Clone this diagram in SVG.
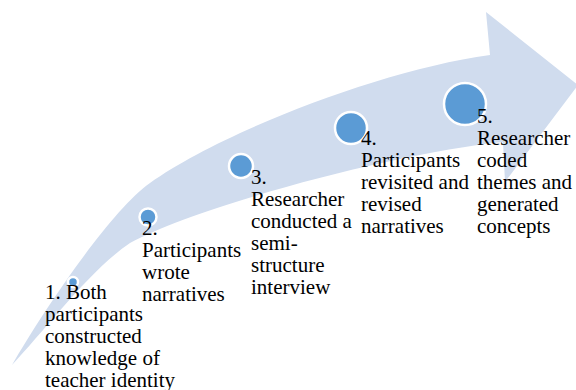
<svg xmlns="http://www.w3.org/2000/svg" width="576" height="390" viewBox="0 0 576 390">
  <style>
    .band { fill: #D0DCEE; }
    .dot { fill: #5B9BD5; stroke: #FFFFFF; stroke-width: 2.5; }
    .label { font-family: "Liberation Serif", "Times New Roman", serif; font-size: 21px; fill: #000000; }
  </style>

  <!-- curved upward arrow (background shape) -->
  <g id="connectors">
    <path class="band" d="M12,365
      C42,313 110,211 150,183
      C220,133 380,70 490,55
      L486,12
      L578,85
      L505,182
      L503,142
      C400,152 200,205 130,243
      C90,270 45,330 12,365 Z"/>
  </g>

  <g id="step1">
    <circle class="dot" cx="73" cy="282" r="5"/>
    <text class="label">
      <tspan x="45" y="299">1. Both</tspan>
      <tspan x="45" y="321">participants</tspan>
      <tspan x="45" y="343">constructed</tspan>
      <tspan x="45" y="365">knowledge of</tspan>
      <tspan x="45" y="387">teacher identity</tspan>
    </text>
  </g>

  <g id="step2">
    <circle class="dot" cx="148" cy="217" r="8.5"/>
    <text class="label">
      <tspan x="142" y="235">2.</tspan>
      <tspan x="142" y="257">Participants</tspan>
      <tspan x="142" y="279">wrote</tspan>
      <tspan x="142" y="301">narratives</tspan>
    </text>
  </g>

  <g id="step3">
    <circle class="dot" cx="241" cy="166" r="12"/>
    <text class="label">
      <tspan x="251" y="184">3.</tspan>
      <tspan x="251" y="206">Researcher</tspan>
      <tspan x="251" y="228">conducted a</tspan>
      <tspan x="251" y="250">semi-</tspan>
      <tspan x="251" y="272">structure</tspan>
      <tspan x="251" y="294">interview</tspan>
    </text>
  </g>

  <g id="step4">
    <circle class="dot" cx="351" cy="128" r="16"/>
    <text class="label">
      <tspan x="361" y="145">4.</tspan>
      <tspan x="361" y="167">Participants</tspan>
      <tspan x="361" y="189">revisited and</tspan>
      <tspan x="361" y="211">revised</tspan>
      <tspan x="361" y="233">narratives</tspan>
    </text>
  </g>

  <g id="step5">
    <circle class="dot" cx="465" cy="104" r="21"/>
    <text class="label">
      <tspan x="477" y="123">5.</tspan>
      <tspan x="477" y="145">Researcher</tspan>
      <tspan x="477" y="167">coded</tspan>
      <tspan x="477" y="189">themes and</tspan>
      <tspan x="477" y="211">generated</tspan>
      <tspan x="477" y="233">concepts</tspan>
    </text>
  </g>
</svg>
